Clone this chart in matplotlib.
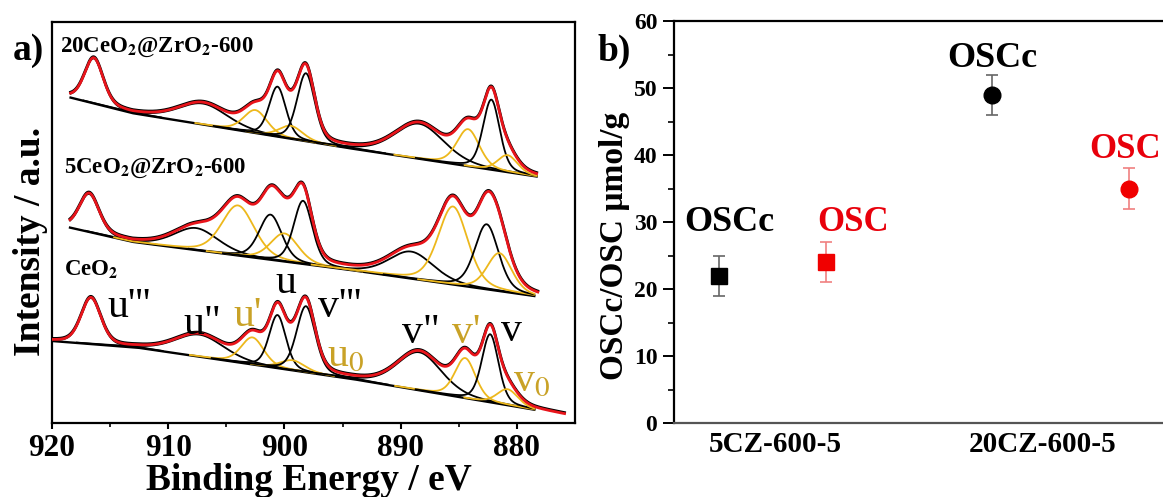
import numpy as np
import matplotlib
matplotlib.use('Agg')
import matplotlib.pyplot as plt

plt.rcParams['font.family'] = ['Liberation Serif', 'DejaVu Serif']
plt.rcParams['mathtext.fontset'] = 'stix'

# ---------------- data ----------------
component_names = ["u'''", "u''", "u'", "u", "u0", "v'''", "v''", "v'", "v", "v0"]
component_ce3 = [False, False, True, False, True, False, False, True, False, True]

sample_labels = [r"20CeO$_\mathbf{2}$@ZrO$_\mathbf{2}$-600",
                 r"5CeO$_\mathbf{2}$@ZrO$_\mathbf{2}$-600",
                 r"CeO$_\mathbf{2}$"]

# 20CeO2@ZrO2-600
top_centers = [916.4, 907.0, 902.5, 900.6, 899.45, 898.15, 888.4, 884.2, 882.2, 880.8]
top_heights = [45.0, 21.0, 23.0, 50.0, 13.0, 68.0, 35.0, 37.0, 70.0, 17.0]
top_fwhm = [1.9, 5.0, 2.4, 1.7, 2.4, 1.8, 5.0, 2.3, 1.7, 2.0]
top_base_E = [918.4, 913.1, 895.1, 878.3]
top_base_I = [325.4, 309.9, 276.0, 246.5]
top_range = [918.4, 878.3]

# 5CeO2@ZrO2-600
mid_centers = [916.8, 907.6, 904.0, 901.2, 900.0, 898.4, 889.1, 885.5, 882.6, 881.5]
mid_heights = [38.0, 22.0, 50.0, 45.0, 28.0, 63.0, 27.0, 78.0, 65.0, 38.0]
mid_fwhm = [2.0, 4.5, 3.3, 2.3, 2.8, 1.9, 4.5, 3.0, 2.4, 2.5]
mid_base_E = [918.45, 913.1, 894.8, 878.5]
mid_base_I = [195.4, 181.2, 153.8, 127.0]
mid_range = [918.45, 878.2]

# CeO2
bot_centers = [916.65, 907.3, 902.75, 900.6, 899.3, 898.15, 888.4, 884.45, 882.3, 880.8]
bot_heights = [46.0, 22.0, 27.0, 53.0, 10.0, 66.0, 38.0, 40.0, 68.0, 16.0]
bot_fwhm = [2.0, 5.0, 2.3, 1.7, 2.5, 1.9, 4.5, 2.1, 1.7, 2.1]
bot_base_E = [920.0, 912.6, 894.2, 878.5]
bot_base_I = [82.0, 75.3, 44.1, 13.3]
bot_range = [920.0, 875.9]

# OSC panel
categories = ['5CZ-600-5', '20CZ-600-5']
oscc_values = [22, 49]
oscc_errors = [3, 3]
osc_values = [24, 35]
osc_errors = [3, 3]

# ---------------- helpers ----------------
W, H = 1163, 497
fig = plt.figure(figsize=(W / 100, H / 100), dpi=100)


def rect(x0, y0, x1, y1):
    return [x0 / W, 1 - y1 / H, (x1 - x0) / W, (y1 - y0) / H]


def pvoigt(E, c, h, fw, eta=0.3):
    s = fw / 2.3548
    g = np.exp(-0.5 * ((E - c) / s) ** 2)
    l = 1.0 / (1.0 + ((E - c) / (fw / 2.0)) ** 2)
    return h * ((1 - eta) * g + eta * l)


def base_line(E, bE, bI):
    bE = np.asarray(bE)[::-1]
    bI = np.asarray(bI)[::-1]
    y = np.interp(E, bE, bI)
    lo = E < bE[0]
    s0 = (bI[1] - bI[0]) / (bE[1] - bE[0])
    y[lo] = bI[0] + s0 * (E[lo] - bE[0])
    hi = E > bE[-1]
    s1 = (bI[-1] - bI[-2]) / (bE[-1] - bE[-2])
    y[hi] = bI[-1] + s1 * (E[hi] - bE[-1])
    return y


YELLOW = '#EDB81C'
GOLD = '#C9A227'
RED = '#E8141B'

# ---------------- panel a ----------------
ax = fig.add_axes(rect(52, 22, 575, 423))
spectra = [
    (top_centers, top_heights, top_fwhm, top_base_E, top_base_I, top_range),
    (mid_centers, mid_heights, mid_fwhm, mid_base_E, mid_base_I, mid_range),
    (bot_centers, bot_heights, bot_fwhm, bot_base_E, bot_base_I, bot_range),
]
for cen, hei, fw, bE, bI, rng in spectra:
    Eb = np.linspace(bE[0], bE[-1], 1200)
    bb = base_line(Eb, bE, bI)
    for c, h, w, ce3 in zip(cen, hei, fw, component_ce3):
        comp = pvoigt(Eb, c, h, w)
        yy = np.where(comp > 0.35, bb + comp, np.nan)
        ax.plot(Eb, yy, color=YELLOW if ce3 else 'black', lw=1.3, zorder=3)
    ax.plot(Eb, bb, color='black', lw=1.7, zorder=2)
    Ef = np.linspace(rng[0], rng[1], 1500)
    fit = base_line(Ef, bE, bI)
    for c, h, w in zip(cen, hei, fw):
        fit = fit + pvoigt(Ef, c, h, w)
    ax.plot(Ef, fit + 1.0, color='black', lw=2.0, zorder=4)
    ax.plot(Ef, fit, color=RED, lw=2.0, zorder=5)

ax.set_xlim(920, 875)
ax.set_ylim(0, 401)
ax.set_yticks([])
ax.set_xticks([920, 910, 900, 890, 880])
ax.set_xticks([915, 905, 895, 885], minor=True)
ax.tick_params(axis='x', which='major', direction='out', length=4, width=1.5, pad=4)
ax.tick_params(axis='x', which='minor', direction='out', length=3, width=1.2)
for lab in ax.get_xticklabels():
    lab.set_fontsize(22.5)
    lab.set_fontweight('bold')
for sp in ax.spines.values():
    sp.set_linewidth(1.6)

# sample labels
lab_pos = [(919.3, 371), (918.95, 250), (918.95, 148)]
for txt, (xe, yb) in zip(sample_labels, lab_pos):
    ax.text(xe, yb, txt, fontsize=16.5, fontweight='bold', ha='left', va='baseline', zorder=6)

# peak labels (CeO2 spectrum)
pk_lab = [
    ("u'''", 915.2, 106, 'black', 'left'),
    ('u"', 908.7, 89, 'black', 'left'),
    ("u'", 904.4, 97, GOLD, 'left'),
    ('u', 899.85, 130, 'black', 'center'),
    ("v'''", 897.1, 106, 'black', 'left'),
    (r"u$_\mathrm{0}$", 896.3, 58, GOLD, 'left'),
    ('v"', 889.9, 80, 'black', 'left'),
    ("v'", 885.6, 80, GOLD, 'left'),
    ('v', 881.4, 82, 'black', 'left'),
    (r"v$_\mathrm{0}$", 880.35, 33, GOLD, 'left'),
]
for t, xe, yv, col, ha in pk_lab:
    ax.text(xe, yv, t, fontsize=30, color=col, ha=ha, va='baseline', zorder=6)

fig.text(309 / W, 1 - 490 / H, 'Binding Energy / eV', fontsize=27, fontweight='bold',
         ha='center', va='baseline')
fig.text(30 / W, 1 - 241 / H, 'Intensity / a.u.', fontsize=27, fontweight='bold',
         ha='center', va='center', rotation=90)
fig.text(28.5 / W, 1 - 51 / H, 'a)', fontsize=27, fontweight='bold', ha='center', va='center')

# ---------------- panel b ----------------
bx = fig.add_axes(rect(674, 21, 1190, 423))
cat_x = np.array([1.0, 2.0])
oscc_x = cat_x + np.array([-0.21, -0.19])
osc_x = cat_x + np.array([0.19, 0.32])
markers = ['s', 'o']
for i in range(2):
    bx.errorbar(oscc_x[i], oscc_values[i], yerr=oscc_errors[i], fmt=markers[i], color='black',
                ms=12, ecolor='#666666', elinewidth=1.2, capsize=4, capthick=1.2, zorder=4)
    bx.errorbar(osc_x[i], osc_values[i], yerr=osc_errors[i], fmt=markers[i], color='#F00000',
                ms=12, ecolor='#F08080', elinewidth=1.2, capsize=4, capthick=1.2, zorder=4)
    bx.text(oscc_x[i] + 0.04 if i == 0 else oscc_x[i], oscc_values[i] + (6.7 if i == 0 else 4.1),
            'OSCc', fontsize=26, fontweight='bold', color='black', ha='center', va='baseline')
    bx.text(osc_x[i] + 0.10 if i == 0 else osc_x[i] - 0.015, osc_values[i] + (4.7 if i == 0 else 4.5),
            'OSC', fontsize=25, fontweight='bold', color='#E8000B', ha='center', va='baseline')

bx.set_xlim(1 - 101 / 268, 2 + 147 / 268)
bx.set_ylim(0, 60)
bx.set_xticks(cat_x)
bx.set_xticklabels(categories)
bx.set_yticks(np.arange(0, 61, 10))
bx.set_yticks(np.arange(5, 60, 10), minor=True)
bx.tick_params(axis='x', length=0, pad=6)
bx.tick_params(axis='y', which='major', direction='out', length=8, width=1.4, pad=4)
bx.tick_params(axis='y', which='minor', direction='out', length=4, width=1.2)
for lab in bx.get_xticklabels():
    lab.set_fontsize(21)
    lab.set_fontweight('bold')
for lab in bx.get_yticklabels():
    lab.set_fontsize(17)
    lab.set_fontweight('bold')
for sp in bx.spines.values():
    sp.set_linewidth(1.6)
bx.spines['bottom'].set_color('#555555')

fig.text(615 / W, 1 - 246 / H, 'OSCc/OSC μmol/g', fontsize=24, fontweight='bold',
         ha='center', va='center', rotation=90)
fig.text(614 / W, 1 - 51 / H, 'b)', fontsize=27, fontweight='bold', ha='center', va='center')

fig.savefig('out.png', dpi=100)
